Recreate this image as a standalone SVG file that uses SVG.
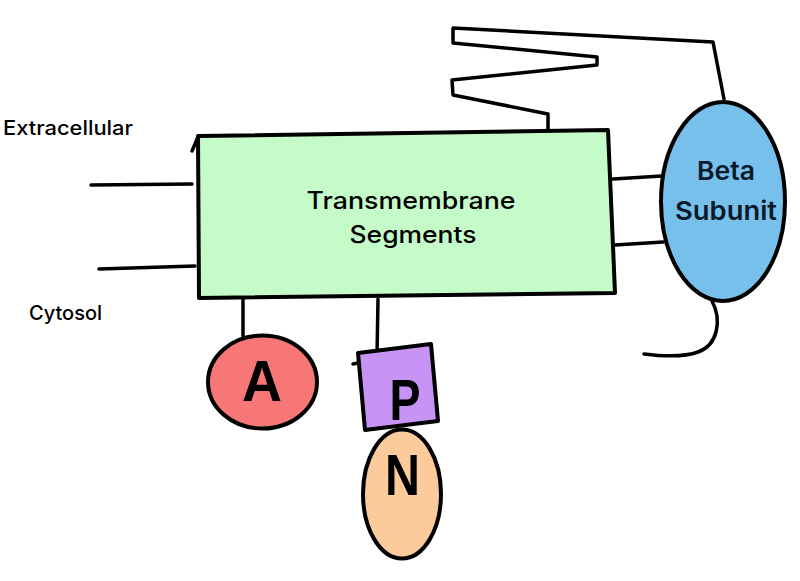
<svg xmlns="http://www.w3.org/2000/svg" width="800" height="581" viewBox="0 0 800 581">
<style>
.ln{fill:none;stroke:#000;stroke-width:3.5;stroke-linecap:round;stroke-linejoin:round}
.sh{stroke:#000;stroke-width:4;stroke-linejoin:round}
.lbl{font-family:Inter,"Liberation Sans",sans-serif;font-weight:500;font-size:20px;fill:#000}
.mid{font-family:Inter,"Liberation Sans",sans-serif;font-weight:500;font-size:24px;fill:#000;text-anchor:middle}
.beta{font-family:Inter,"Liberation Sans",sans-serif;font-weight:600;font-size:26px;fill:#0a1a2a;text-anchor:middle}
.big{font-family:"Liberation Sans",Arial,sans-serif;font-weight:bold;font-size:57px;fill:#000;text-anchor:middle}
</style>
<rect width="800" height="581" fill="#fff"/>
<g id="connectors">
  <polyline class="ln" points="91,185 192,184"/>
  <polyline class="ln" points="99,269 195,266"/>
  <polyline class="ln" points="243,299 243,336"/>
  <polyline class="ln" points="378,299 377,355"/>
  <polyline class="ln" points="613,179 662,176"/>
  <polyline class="ln" points="615,245 663,242"/>
  <polyline class="ln" points="548,130 548,114 453,95 452,80 597,65 597,57 453,43 453,28 713,42 724,99"/>
  <path class="ln" d="M712,301 C722,320 718,345 698,352 C682,358 660,356 644,354"/>
</g>
<g id="transmembrane-segments">
  <polygon class="sh" points="198,136 608,130 615,293 199,298" fill="#c4fbc8"/>
  <polyline class="ln" points="198,137 192,151"/>
  <text class="mid" x="411" y="209" textLength="209" lengthAdjust="spacingAndGlyphs">Transmembrane</text>
  <text class="mid" x="413" y="243" textLength="127" lengthAdjust="spacingAndGlyphs">Segments</text>
</g>
<g id="beta-subunit">
  <ellipse class="sh" cx="723" cy="201.5" rx="62" ry="99.5" fill="#77c0eb"/>
  <text class="beta" x="726" y="180" textLength="58" lengthAdjust="spacingAndGlyphs">Beta</text>
  <text class="beta" x="726" y="220" textLength="102" lengthAdjust="spacingAndGlyphs">Subunit</text>
</g>
<g id="a-domain">
  <ellipse class="sh" cx="262.5" cy="382" rx="54.5" ry="46.5" fill="#f77777"/>
  <text class="big" x="262" y="401" textLength="40" lengthAdjust="spacingAndGlyphs">A</text>
</g>
<g id="n-domain">
  <ellipse class="sh" cx="402" cy="494" rx="39" ry="64.5" fill="#fccb9b"/>
  <text class="big" x="402.5" y="495" textLength="35" lengthAdjust="spacingAndGlyphs">N</text>
</g>
<g id="p-domain">
  <polygon class="sh" points="358,353 431,344 438,421 365,430" fill="#c794f6"/>
  <polyline class="ln" points="353,364 358,363"/>
  <text class="big" x="405" y="420" textLength="31" lengthAdjust="spacingAndGlyphs">P</text>
</g>
<g id="labels">
  <text class="lbl" x="3" y="135" textLength="130" lengthAdjust="spacingAndGlyphs">Extracellular</text>
  <text class="lbl" x="29" y="320" textLength="73" lengthAdjust="spacingAndGlyphs">Cytosol</text>
</g>
</svg>
